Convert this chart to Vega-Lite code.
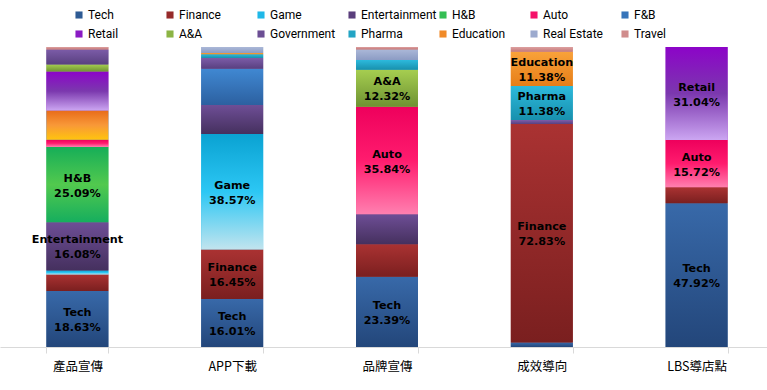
{
  "$schema": "https://vega.github.io/schema/vega-lite/v6.json",
  "autosize": {"type": "none"},
  "width": 774,
  "height": 300,
  "padding": {"left": 0, "top": 47, "right": 0, "bottom": 43},
  "background": "white",
  "config": {"view": {"stroke": null}},
  "params": [
    {"name": "grad", "value": {
      "Tech": {"gradient": "linear", "x1": 0, "y1": 0, "x2": 0, "y2": 1, "stops": [{"offset": 0, "color": "#3869A9"}, {"offset": 1, "color": "#23467A"}]},
      "Finance": {"gradient": "linear", "x1": 0, "y1": 0, "x2": 0, "y2": 1, "stops": [{"offset": 0, "color": "#AA3232"}, {"offset": 1, "color": "#7A1F1F"}]},
      "Game": {"gradient": "linear", "x1": 0, "y1": 0, "x2": 0, "y2": 1, "stops": [{"offset": 0, "color": "#0AA2D2"}, {"offset": 0.5, "color": "#2CC7F4"}, {"offset": 1, "color": "#C2E4EE"}]},
      "Entertainment": {"gradient": "linear", "x1": 0, "y1": 0, "x2": 0, "y2": 1, "stops": [{"offset": 0, "color": "#6E4E96"}, {"offset": 1, "color": "#45305E"}]},
      "H&B": {"gradient": "linear", "x1": 0, "y1": 0, "x2": 0, "y2": 1, "stops": [{"offset": 0, "color": "#16AE58"}, {"offset": 0.5, "color": "#52C94E"}, {"offset": 1, "color": "#16AE5E"}]},
      "Auto": {"gradient": "linear", "x1": 0, "y1": 0, "x2": 0, "y2": 1, "stops": [{"offset": 0, "color": "#EE005C"}, {"offset": 0.5, "color": "#FF1C6E"}, {"offset": 1, "color": "#FF80B0"}]},
      "F&B": {"gradient": "linear", "x1": 0, "y1": 0, "x2": 0, "y2": 1, "stops": [{"offset": 0, "color": "#4088D2"}, {"offset": 1, "color": "#2C60A0"}]},
      "Retail": {"gradient": "linear", "x1": 0, "y1": 0, "x2": 0, "y2": 1, "stops": [{"offset": 0, "color": "#8C04C8"}, {"offset": 0.5, "color": "#7B38AE"}, {"offset": 1, "color": "#CCA6F2"}]},
      "A&A": {"gradient": "linear", "x1": 0, "y1": 0, "x2": 0, "y2": 1, "stops": [{"offset": 0, "color": "#A6CE50"}, {"offset": 1, "color": "#6E9232"}]},
      "Government": {"gradient": "linear", "x1": 0, "y1": 0, "x2": 0, "y2": 1, "stops": [{"offset": 0, "color": "#7C5CA8"}, {"offset": 1, "color": "#594080"}]},
      "Pharma": {"gradient": "linear", "x1": 0, "y1": 0, "x2": 0, "y2": 1, "stops": [{"offset": 0, "color": "#2DBADD"}, {"offset": 1, "color": "#1890AD"}]},
      "Education": {"gradient": "linear", "x1": 0, "y1": 0, "x2": 0, "y2": 1, "stops": [{"offset": 0, "color": "#F9A23A"}, {"offset": 1, "color": "#E67E18"}]},
      "Real Estate": {"gradient": "linear", "x1": 0, "y1": 0, "x2": 0, "y2": 1, "stops": [{"offset": 0, "color": "#ABB8D8"}, {"offset": 1, "color": "#8C9CC4"}]},
      "Travel": {"gradient": "linear", "x1": 0, "y1": 0, "x2": 0, "y2": 1, "stops": [{"offset": 0, "color": "#DDA0A0"}, {"offset": 1, "color": "#C47878"}]},
      "FB2": {"gradient": "linear", "x1": 0, "y1": 0, "x2": 0, "y2": 1, "stops": [{"offset": 0, "color": "#E86C1A"}, {"offset": 0.5, "color": "#F89838"}, {"offset": 1, "color": "#FFC40E"}]}
    }}
  ],
  "data": {"values": [
    {"channel": "產品宣傳", "industry": "Tech", "value": 18.63, "labeled": true},
    {"channel": "產品宣傳", "industry": "Finance", "value": 5.5, "labeled": false},
    {"channel": "產品宣傳", "industry": "Game", "value": 1.4, "labeled": false},
    {"channel": "產品宣傳", "industry": "Entertainment", "value": 16.08, "labeled": true},
    {"channel": "產品宣傳", "industry": "H&B", "value": 25.09, "labeled": true},
    {"channel": "產品宣傳", "industry": "Auto", "value": 2.4, "labeled": false},
    {"channel": "產品宣傳", "industry": "F&B", "value": 9.7, "labeled": false},
    {"channel": "產品宣傳", "industry": "Retail", "value": 13.0, "labeled": false},
    {"channel": "產品宣傳", "industry": "A&A", "value": 2.4, "labeled": false},
    {"channel": "產品宣傳", "industry": "Government", "value": 5.0, "labeled": false},
    {"channel": "產品宣傳", "industry": "Travel", "value": 0.8, "labeled": false},
    {"channel": "APP下載", "industry": "Tech", "value": 16.01, "labeled": true},
    {"channel": "APP下載", "industry": "Finance", "value": 16.45, "labeled": true},
    {"channel": "APP下載", "industry": "Game", "value": 38.57, "labeled": true},
    {"channel": "APP下載", "industry": "Entertainment", "value": 9.63, "labeled": false},
    {"channel": "APP下載", "industry": "F&B", "value": 12.1, "labeled": false},
    {"channel": "APP下載", "industry": "Government", "value": 3.57, "labeled": false},
    {"channel": "APP下載", "industry": "Pharma", "value": 1.23, "labeled": false},
    {"channel": "APP下載", "industry": "Education", "value": 0.4, "labeled": false},
    {"channel": "APP下載", "industry": "Real Estate", "value": 2.04, "labeled": false},
    {"channel": "品牌宣傳", "industry": "Tech", "value": 23.39, "labeled": true},
    {"channel": "品牌宣傳", "industry": "Finance", "value": 10.85, "labeled": false},
    {"channel": "品牌宣傳", "industry": "Entertainment", "value": 10.0, "labeled": false},
    {"channel": "品牌宣傳", "industry": "Auto", "value": 35.84, "labeled": true},
    {"channel": "品牌宣傳", "industry": "A&A", "value": 12.32, "labeled": true},
    {"channel": "品牌宣傳", "industry": "Pharma", "value": 3.3, "labeled": false},
    {"channel": "品牌宣傳", "industry": "Real Estate", "value": 3.5, "labeled": false},
    {"channel": "品牌宣傳", "industry": "Travel", "value": 0.8, "labeled": false},
    {"channel": "成效導向", "industry": "Tech", "value": 1.5, "labeled": false},
    {"channel": "成效導向", "industry": "Finance", "value": 72.83, "labeled": true},
    {"channel": "成效導向", "industry": "Government", "value": 1.3, "labeled": false},
    {"channel": "成效導向", "industry": "Pharma", "value": 11.38, "labeled": true},
    {"channel": "成效導向", "industry": "Education", "value": 11.38, "labeled": true},
    {"channel": "成效導向", "industry": "Travel", "value": 1.6, "labeled": false},
    {"channel": "LBS導店點", "industry": "Tech", "value": 47.92, "labeled": true},
    {"channel": "LBS導店點", "industry": "Finance", "value": 5.32, "labeled": false},
    {"channel": "LBS導店點", "industry": "Auto", "value": 15.72, "labeled": true},
    {"channel": "LBS導店點", "industry": "Retail", "value": 31.04, "labeled": true}
  ]},
  "transform": [
    {"calculate": "indexof(['Tech','Finance','Game','Entertainment','H&B','Auto','F&B','Retail','A&A','Government','Pharma','Education','Real Estate','Travel'], datum.industry)", "as": "k"},
    {"stack": "value", "groupby": ["channel"], "sort": [{"field": "k", "order": "ascending"}], "as": ["v0", "v1"]},
    {"calculate": "(datum.v0 + datum.v1) / 2", "as": "mid"},
    {"calculate": "[datum.industry, format(datum.value, '.2f') + '%']", "as": "label"}
  ],
  "encoding": {
    "x": {
      "field": "channel", "type": "nominal",
      "sort": ["產品宣傳", "APP下載", "品牌宣傳", "成效導向", "LBS導店點"],
      "scale": {"paddingInner": 0.6, "paddingOuter": 0.3},
      "axis": {
        "title": null, "labelAngle": 0, "tickBand": "extent",
        "domainColor": "#D9D9D9", "tickColor": "#D9D9D9", "tickSize": 6,
        "labelFont": "Noto Sans CJK TC", "labelFontSize": 12.5, "labelColor": "#000000",
        "labelPadding": 7
      }
    },
    "y": {"field": "v0", "type": "quantitative", "scale": {"domain": [0, 100]}, "axis": null},
    "y2": {"field": "v1"}
  },
  "layer": [
    {
      "mark": {"type": "bar"},
      "encoding": {
        "color": {
          "field": "industry", "type": "nominal",
          "scale": {
            "domain": ["Tech","Finance","Game","Entertainment","H&B","Auto","F&B","Retail","A&A","Government","Pharma","Education","Real Estate","Travel"],
            "range": ["#2F5B94","#962A2A","#1FB8E8","#5A3E7C","#34BE54","#F5126A","#3674BA","#8A1AC4","#8CB444","#6B4E94","#22A4C4","#F08A28","#9CAACE","#D08C8C"]
          },
          "legend": {
            "title": null, "orient": "none", "legendX": 73, "legendY": -38,
            "direction": "horizontal", "columns": 7, "gridAlign": "all",
            "symbolType": "square", "symbolSize": 50, "symbolStrokeWidth": 0,
            "labelFont": "Roboto", "labelFontSize": 12, "labelColor": "#000000",
            "labelOffset": 3, "columnPadding": 0, "rowPadding": 7, "labelLimit": 200
          }
        }
      }
    },
    {
      "mark": {"type": "bar", "fill": {"expr": "(datum.channel === '產品宣傳' && datum.industry === 'F&B') ? grad['FB2'] : grad[datum.industry]"}},
      "encoding": {}
    },
    {
      "transform": [{"filter": "datum.labeled"}],
      "mark": {"type": "text", "font": "DejaVu Sans", "fontWeight": "bold", "fontSize": 11.2, "lineHeight": 15, "baseline": "middle", "color": "#000000", "dy": -6},
      "encoding": {
        "y": {"field": "mid", "type": "quantitative"},
        "y2": null,
        "text": {"field": "label"}
      }
    }
  ]
}
